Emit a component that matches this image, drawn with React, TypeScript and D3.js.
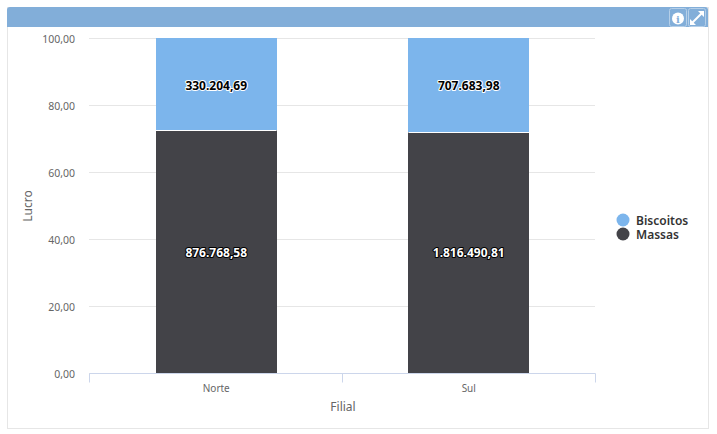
import React, { useEffect, useRef } from "react";
import * as d3 from "d3";

const categories = ["Norte", "Sul"];
const seriesNames = ["Massas", "Biscoitos"];
const massas = [876768.58, 1816490.81];
const biscoitos = [330204.69, 707683.98];
const yTicks = [0, 20, 40, 60, 80, 100];
const legendNames = ["Biscoitos", "Massas"];

const colors: Record<string, string> = { Biscoitos: "#7cb5ec", Massas: "#434348" };
const FONT = "'Noto Sans', Tahoma, sans-serif";

const fmtValue = (v: number) =>
  v.toLocaleString("pt-BR", { minimumFractionDigits: 2, maximumFractionDigits: 2 });

const App: React.FC = () => {
  const svgRef = useRef<SVGSVGElement | null>(null);

  useEffect(() => {
    const svg = d3.select(svgRef.current);
    svg.selectAll("*").remove();

    // panel and header
    svg.append("rect").attr("x", 7.5).attr("y", 7.5).attr("width", 701).attr("height", 421)
      .attr("fill", "#fff").attr("stroke", "#e6e6e6");
    svg.append("path").attr("d", "M7,27V10a3,3 0 0 1 3,-3H705a3,3 0 0 1 3,3V27Z").attr("fill", "#82aed9");

    // header buttons
    const btn = svg.append("g");
    [669, 688].forEach(x => {
      btn.append("rect").attr("x", x + 0.5).attr("y", 8.5).attr("width", 17).attr("height", 18).attr("rx", 2)
        .attr("fill", "none").attr("stroke", "#b5cfe8");
    });
    btn.append("circle").attr("cx", 678).attr("cy", 18.5).attr("r", 6).attr("fill", "#fff");
    btn.append("text").attr("x", 678).attr("y", 22.5).attr("text-anchor", "middle")
      .attr("font-family", "'DejaVu Serif', serif").attr("font-weight", "bold").attr("font-size", 10)
      .attr("fill", "#82aed9").text("i");
    btn.append("path").attr("d", "M692,23L702,13").attr("stroke", "#fff").attr("stroke-width", 2).attr("fill", "none");
    btn.append("path").attr("d", "M698,11H704V17ZM690,19V25H696Z").attr("fill", "#fff");

    const xTicks = d3.scaleBand().domain(categories).range([89, 595]);
    const x = d3.scaleBand().domain(categories).range([90, 595]);
    const y = d3.scaleLinear().domain([0, 100]).range([373, 38]);
    const barWidth = x.bandwidth() * 0.478;
    const barLeft = (c: string) => x(c)! + (x.bandwidth() - barWidth) / 2;

    // grid + y labels
    const yAxis = d3.axisLeft(y).tickValues(yTicks).tickSize(-(595 - 89)).tickPadding(14)
      .tickFormat(d => (d as number).toFixed(2).replace(".", ","));
    const gy = svg.append("g").attr("transform", "translate(89,0)").call(yAxis);
    gy.select(".domain").remove();
    gy.selectAll("line").attr("stroke", "#e6e6e6");
    gy.selectAll("text").attr("font-family", FONT).attr("font-size", 10.5).attr("fill", "#666")
      .attr("transform", "translate(0,1)");

    // stacks
    const rows = categories.map((c, i) => {
      const total = massas[i] + biscoitos[i];
      return { cat: c, Massas: massas[i] / total * 100, Biscoitos: biscoitos[i] / total * 100 };
    });
    const stacked = d3.stack<any>().keys(seriesNames)(rows);

    stacked.forEach((layer, si) => {
      svg.append("g").selectAll("rect").data(layer).join("rect")
        .attr("x", d => barLeft(d.data.cat))
        .attr("width", barWidth)
        .attr("y", d => y(d[1]))
        .attr("height", d => y(d[0]) - y(d[1]))
        .attr("fill", colors[seriesNames[si]])
        .attr("shape-rendering", "crispEdges");
    });

    // white gap between the stacked segments
    svg.append("g").selectAll("line").data(stacked[0]).join("line")
      .attr("x1", d => barLeft(d.data.cat))
      .attr("x2", d => barLeft(d.data.cat) + barWidth)
      .attr("y1", d => Math.round(y(d[1])) + 0.5)
      .attr("y2", d => Math.round(y(d[1])) + 0.5)
      .attr("stroke", "#fff");

    // x axis
    const xAxis = d3.axisBottom(x).tickSize(0).tickPadding(11);
    const gx = svg.append("g").attr("transform", "translate(0,373.5)").call(xAxis);
    gx.select(".domain").attr("stroke", "#ccd6eb").attr("d", "M89.5,0H595.5");
    gx.selectAll("text").attr("font-family", FONT).attr("font-size", 10).attr("fill", "#666");
    const edges = [xTicks.range()[0], ...categories.map(c => xTicks(c)! + xTicks.bandwidth())];
    gx.selectAll("line.edge").data(edges).join("line").attr("class", "edge")
      .attr("x1", d => d + 0.5).attr("x2", d => d + 0.5).attr("y1", 0).attr("y2", 9)
      .attr("stroke", "#ccd6eb");

    // data labels drawn above the bars
    stacked.forEach((layer, si) => {
      const vals = si === 0 ? massas : biscoitos;
      const dark = seriesNames[si] === "Massas";
      svg.append("g").selectAll("text").data(layer).join("text")
        .attr("x", d => x(d.data.cat)! + x.bandwidth() / 2)
        .attr("y", si === 0 ? 256.5 : 89.5)
        .attr("text-anchor", "middle")
        .attr("font-family", FONT)
        .attr("font-size", 12)
        .attr("font-weight", "bold")
        .attr("paint-order", "stroke")
        .attr("stroke", dark ? "#000" : "#fff")
        .attr("stroke-width", 2)
        .attr("stroke-linejoin", "round")
        .attr("fill", dark ? "#fff" : "#000")
        .text((_, i) => fmtValue(vals[i]));
    });

    // axis titles
    svg.append("text").attr("transform", "translate(32,206) rotate(-90)").attr("text-anchor", "middle")
      .attr("font-family", FONT).attr("font-size", 12).attr("fill", "#666").text("Lucro");
    svg.append("text").attr("x", 343).attr("y", 411).attr("text-anchor", "middle")
      .attr("font-family", FONT).attr("font-size", 12).attr("fill", "#666").text("Filial");

    // legend
    const leg = svg.append("g").selectAll("g").data(legendNames).join("g")
      .attr("transform", (_, i) => `translate(623,${220 + i * 14})`);
    leg.append("circle").attr("r", 6.5).attr("fill", d => colors[d]);
    leg.append("text").attr("x", 13).attr("y", 4.5)
      .attr("font-family", FONT).attr("font-size", 12).attr("font-weight", "600")
      .attr("fill", "#333").text(d => d);
  }, []);

  return <svg ref={svgRef} width={717} height={434} style={{ position: "absolute", left: 0, top: 0 }}></svg>;
};

export default App;
